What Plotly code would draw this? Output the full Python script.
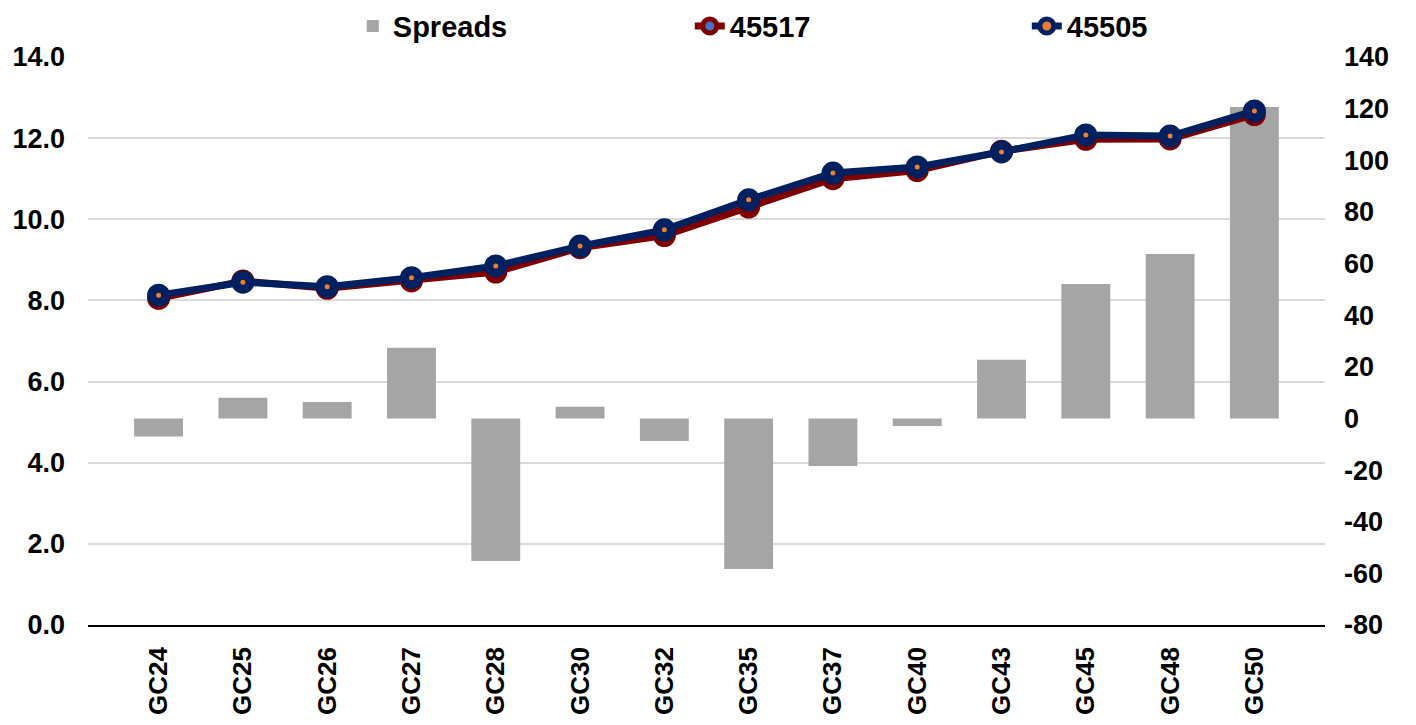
import plotly.graph_objects as go

categories = ["GC24", "GC25", "GC26", "GC27", "GC28", "GC30", "GC32",
              "GC35", "GC37", "GC40", "GC43", "GC45", "GC48", "GC50"]
spreads = [-7.0, 8.0, 6.4, 27.4, -55.2, 4.5, -8.7,
           -58.3, -18.4, -2.9, 22.7, 52.1, 63.7, 120.6]
y45517 = [8.05, 8.48, 8.30, 8.48, 8.70, 9.30, 9.60,
          10.30, 11.00, 11.20, 11.68, 11.97, 11.98, 12.58]
y45505 = [8.13, 8.45, 8.34, 8.56, 8.85, 9.34, 9.74,
          10.48, 11.14, 11.29, 11.66, 12.08, 12.05, 12.67]

right_tickvals = [-80, -60, -40, -20, 0, 20, 40, 60, 80, 100, 120, 140]
right_ticktext = ["-80", "-60", "-40", "-20", "0", "20", "40", "60",
                  "80", "100", "120", "140"]
left_tickvals = [0, 2, 4, 6, 8, 10, 12, 14]
left_ticktext = ["0.0", "2.0", "4.0", "6.0", "8.0", "10.0", "12.0", "14.0"]

FONT = "Liberation Sans, Arial, sans-serif"

fig = go.Figure()
fig.add_trace(go.Bar(
    x=categories, y=spreads, name="Spreads", yaxis="y",
    marker=dict(color="#A5A5A5", line=dict(width=0)), width=0.58,
))
fig.add_trace(go.Scatter(
    x=categories, y=y45517, name="45517", yaxis="y2", mode="lines+markers",
    line=dict(color="#7F0000", width=7),
    marker=dict(size=14, color="#4472C4", line=dict(color="#7F0000", width=9)),
))
fig.add_trace(go.Scatter(
    x=categories, y=y45505, name="45505", yaxis="y2", mode="lines+markers",
    line=dict(color="#002060", width=7),
    marker=dict(size=14, color="#ED7D31", line=dict(color="#002060", width=9)),
))

fig.update_layout(
    width=1416, height=725,
    margin=dict(l=80, r=99, t=49, b=108, autoexpand=False),
    paper_bgcolor="white", plot_bgcolor="white",
    font=dict(family=FONT, size=27, color="black", weight="bold"),
    showlegend=True,
    legend=dict(
        orientation="h", xref="container", yref="container",
        x=0.2435, xanchor="left", y=0.975, yanchor="middle",
        font=dict(size=29, family=FONT, weight="bold"),
        entrywidthmode="pixels", entrywidth=292,
        bgcolor="rgba(0,0,0,0)", borderwidth=0,
    ),
    xaxis=dict(
        type="category", tickangle=-90,
        tickfont=dict(size=26, family=FONT, weight="bold"),
        showline=True, linecolor="black", linewidth=1.5,
        showgrid=False, ticks="", ticklabelstandoff=10,
        automargin=False,
    ),
    yaxis=dict(
        side="right", range=[-80, 140],
        tickvals=right_tickvals, ticktext=right_ticktext,
        showgrid=False, zeroline=False, showline=False,
        tickfont=dict(size=27, family=FONT, weight="bold"),
        ticklabelstandoff=18, automargin=False,
    ),
    yaxis2=dict(
        side="left", overlaying="y", range=[0, 14],
        tickvals=left_tickvals, ticktext=left_ticktext,
        showgrid=True, gridcolor="#D9D9D9", gridwidth=1.5,
        zeroline=False, showline=False,
        tickfont=dict(size=27, family=FONT, weight="bold"),
        ticklabelstandoff=22, automargin=False,
    ),
)

fig.write_html("out.html")
